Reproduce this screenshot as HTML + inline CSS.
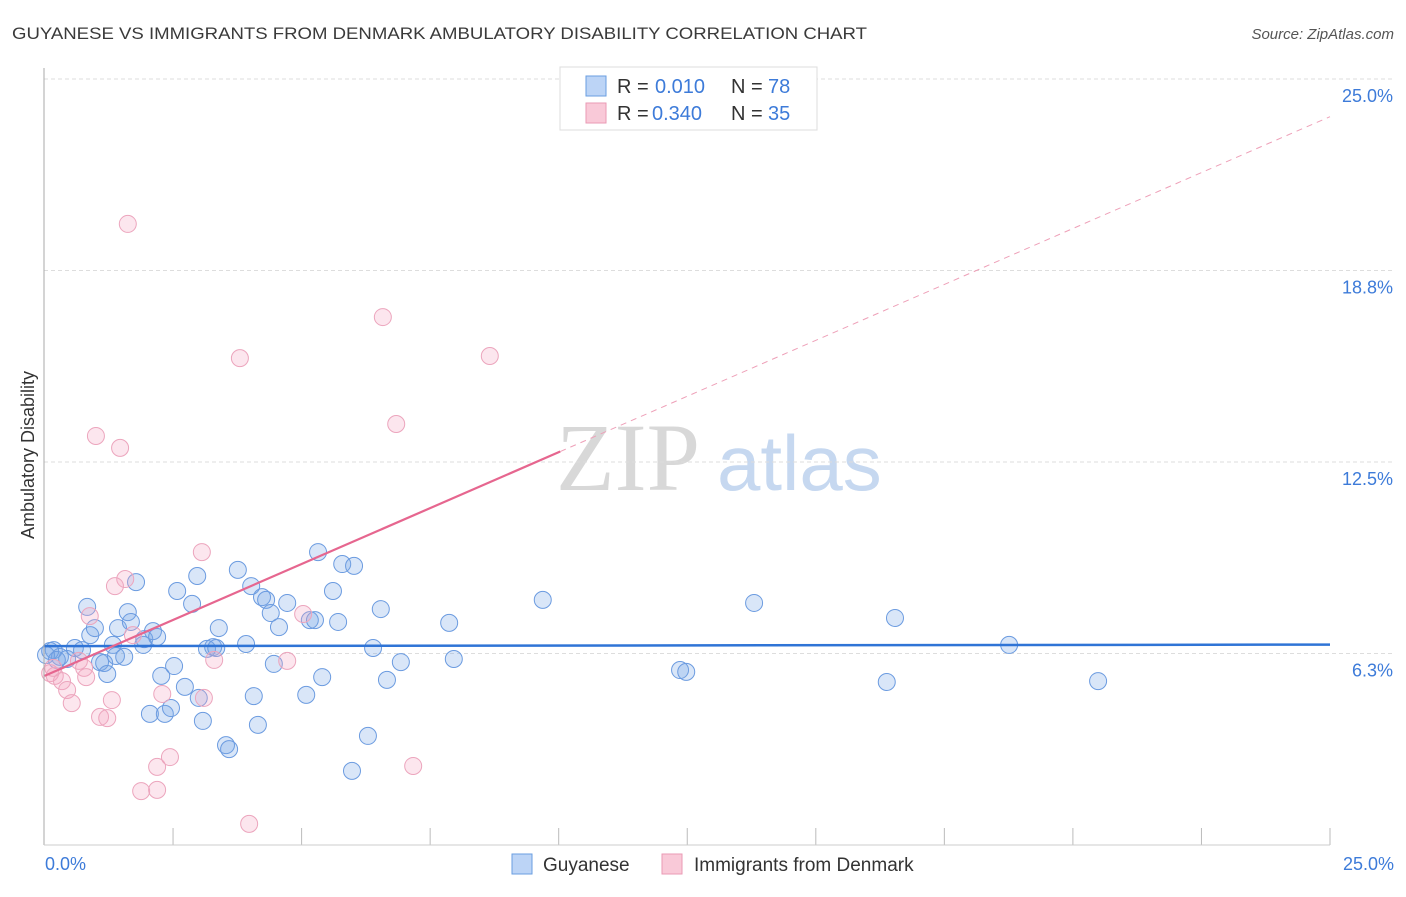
<!DOCTYPE html>
<html><head><meta charset="utf-8"><style>
body{margin:0;background:#fff;font-family:"Liberation Sans",sans-serif}
</style></head><body>
<svg id="c" width="1406" height="892" xmlns="http://www.w3.org/2000/svg">
<text x="12" y="39" font-size="17" fill="#3a3a3a" textLength="855" lengthAdjust="spacingAndGlyphs">GUYANESE VS IMMIGRANTS FROM DENMARK AMBULATORY DISABILITY CORRELATION CHART</text>
<text x="1394" y="39" font-size="15" fill="#555" text-anchor="end" font-style="italic">Source: ZipAtlas.com</text>
<text x="556" y="490" font-size="96" fill="#d8d8d8" font-family="Liberation Serif,serif">ZIP</text>
<text x="717" y="490" font-size="78" fill="#c6d8f0">atlas</text>
<g id="grid"></g><g id="pts"></g><g id="trend"></g>
<line x1="44" y1="68" x2="44" y2="845" stroke="#aaa"/>
<line x1="44" y1="845" x2="1330" y2="845" stroke="#ccc"/>
<text x="34" y="455" font-size="18" fill="#333" text-anchor="middle" transform="rotate(-90 34 455)">Ambulatory Disability</text>
<text x="45" y="870" font-size="18" fill="#3d7bd9">0.0%</text>
<text x="1394" y="870" font-size="18" fill="#3d7bd9" text-anchor="end">25.0%</text>
<g>
<rect x="560" y="67" width="257" height="63" fill="#fff" stroke="#ddd"/>
<rect x="586" y="76" width="20" height="20" fill="#bcd4f6" stroke="#6a9ee0"/>
<rect x="586" y="103" width="20" height="20" fill="#f9c9d8" stroke="#ea9ab4"/>
<text x="617" y="93" font-size="20" fill="#333">R = <tspan x="655" fill="#3d7bd9">0.010</tspan><tspan x="731">N = </tspan><tspan x="768" fill="#3d7bd9">78</tspan></text>
<text x="617" y="120" font-size="20" fill="#333">R = <tspan x="652" fill="#3d7bd9">0.340</tspan><tspan x="731">N = </tspan><tspan x="768" fill="#3d7bd9">35</tspan></text>
</g>
<g>
<rect x="512" y="854" width="20" height="20" fill="#bcd4f6" stroke="#6a9ee0"/>
<text x="543" y="871" font-size="19" fill="#333">Guyanese</text>
<rect x="662" y="854" width="20" height="20" fill="#f9c9d8" stroke="#ea9ab4"/>
<text x="694" y="871" font-size="19" fill="#333">Immigrants from Denmark</text>
</g>
</svg>
<script>
const yTicks=[6.25,12.5,18.75,25];
const yTickLabels=["6.3%","12.5%","18.8%","25.0%"];
const xTicks=[2.5,5,7.5,10,12.5,15,17.5,20,22.5,25];
const blueX=[0.18,0.30,0.44,0.59,0.73,0.83,0.89,0.98,1.08,1.16,1.22,1.33,1.39,1.43,1.55,1.62,1.68,1.78,1.92,1.94,2.05,2.11,2.19,2.27,2.34,2.46,2.52,2.58,2.73,2.87,2.97,3.00,3.08,3.16,3.28,3.34,3.39,3.53,3.59,3.76,3.92,4.02,4.07,4.15,4.23,4.31,4.40,4.46,4.56,4.72,5.09,5.16,5.26,5.32,5.40,5.61,5.71,5.79,5.98,6.02,6.29,6.39,6.54,6.66,6.93,7.87,7.96,9.69,12.36,12.48,13.80,16.38,16.54,18.76,20.49,0.03,0.11,0.24];
const blueY=[6.36,6.14,6.07,6.43,6.36,7.77,6.85,7.08,5.97,5.94,5.58,6.53,6.17,7.08,6.14,7.60,7.28,8.58,6.53,6.72,4.28,6.98,6.79,5.52,4.28,4.47,5.84,8.29,5.16,7.87,8.78,4.80,4.05,6.40,6.46,6.43,7.08,3.26,3.13,8.98,6.56,8.45,4.86,3.92,8.09,8.00,7.57,5.91,7.11,7.90,4.90,7.34,7.34,9.56,5.48,8.29,7.28,9.17,2.42,9.11,3.56,6.43,7.70,5.39,5.97,7.25,6.07,8.00,5.71,5.65,7.90,5.32,7.41,6.53,5.35,6.20,6.33,6.04];
const pinkX=[1.62,6.58,3.80,8.66,6.84,1.00,1.47,3.06,1.57,1.37,0.88,1.72,5.03,0.67,0.77,0.11,0.20,0.34,0.81,0.44,0.53,1.31,2.29,3.10,3.30,4.72,1.08,1.22,2.19,2.44,1.88,2.19,7.17,3.98,0.17];
const pinkY=[20.27,17.23,15.89,15.96,13.74,13.35,12.96,9.56,8.68,8.45,7.47,6.85,7.54,6.01,5.78,5.61,5.52,5.35,5.48,5.06,4.63,4.73,4.93,4.80,6.04,6.01,4.18,4.14,2.55,2.87,1.76,1.80,2.58,0.69,5.78];
const blueTrend=[6.49,0.002];
const pinkTrend=[5.52,0.73];
const pinkSolidEnd=10.03;
const NS="http://www.w3.org/2000/svg";
const sx=v=>44.5+v*51.42, sy=v=>845-v*30.64;
function mk(p,t,a){const e=document.createElementNS(NS,t);for(const k in a)e.setAttribute(k,a[k]);p.appendChild(e);return e;}
const grid=document.getElementById('grid'),pts=document.getElementById('pts'),tr=document.getElementById('trend'),svg=document.getElementById('c');
yTicks.forEach((v,i)=>{
 const l=mk(grid,'line',{x1:44,x2:1394,y1:sy(v),y2:sy(v),stroke:'#ddd','stroke-dasharray':'4,3'});
 
 
 const t=mk(svg,'text',{x:1393,y:sy(v)+23,'font-size':18,fill:'#3d7bd9','text-anchor':'end'});
 t.textContent=yTickLabels[i];
 
 
});
xTicks.forEach(v=>{
 const l=mk(grid,'line',{x1:sx(v),x2:sx(v),y1:828,y2:845,stroke:'#bbb'});
 
 
});
blueX.forEach((x,i)=>{
 const c=mk(pts,'circle',{cx:sx(x),cy:sy(blueY[i]),r:8.5,fill:'rgba(120,165,230,0.28)',stroke:'#6b9be0','stroke-width':1});
 
 
});
pinkX.forEach((x,i)=>{
 const c=mk(pts,'circle',{cx:sx(x),cy:sy(pinkY[i]),r:8.5,fill:'rgba(245,165,195,0.28)',stroke:'#eca5bd','stroke-width':1});
 
 
});
const bl=mk(tr,'line',{x1:sx(0),y1:sy(blueTrend[0]),x2:sx(25),y2:sy(blueTrend[0]+25*blueTrend[1]),stroke:'#2f74d6','stroke-width':2.5});


const pl=mk(tr,'line',{x1:sx(0),y1:sy(pinkTrend[0]),x2:sx(pinkSolidEnd),y2:sy(pinkTrend[0]+pinkSolidEnd*pinkTrend[1]),stroke:'#e6668f','stroke-width':2.2});


const pd=mk(tr,'line',{x1:sx(pinkSolidEnd),y1:sy(pinkTrend[0]+pinkSolidEnd*pinkTrend[1]),x2:sx(25),y2:sy(pinkTrend[0]+25*pinkTrend[1]),stroke:'#eea0b8','stroke-width':1,'stroke-dasharray':'6,5'});


</script>
</body></html>
